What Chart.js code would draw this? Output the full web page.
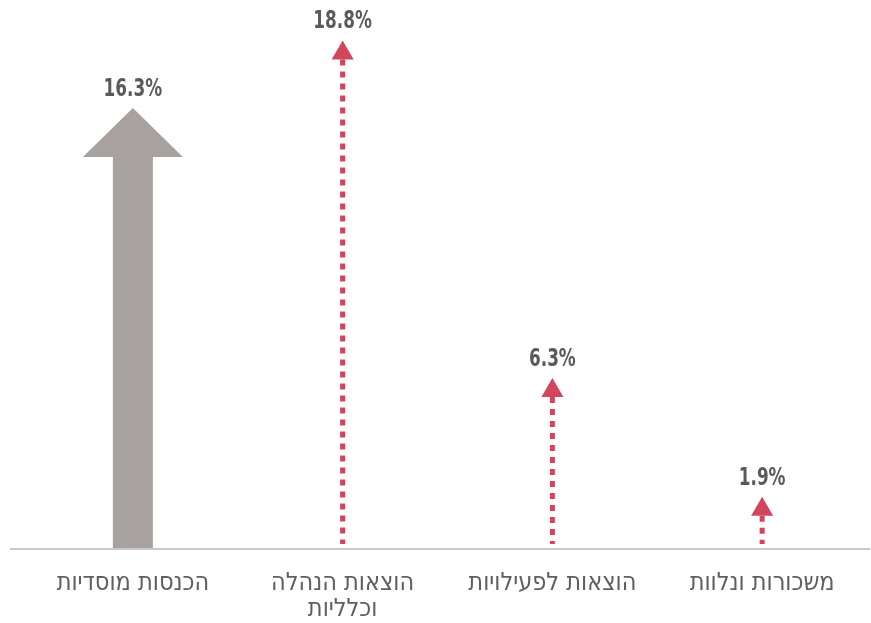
<!DOCTYPE html>
<html>
<head>
<meta charset="utf-8">
<script src="https://cdn.jsdelivr.net/npm/chart.js@4.4.0/dist/chart.umd.min.js"></script>
<style>
  html, body { margin: 0; padding: 0; background: #fff; }
  #wrap { width: 871px; height: 623px; }
</style>
</head>
<body>
<div id="wrap"><canvas id="myChart" width="871" height="623"></canvas></div>
<script>
var categories = [
  'הכנסות מוסדיות',
  ['הוצאות הנהלה', 'וכלליות'],
  'הוצאות לפעילויות',
  'משכורות ונלוות'
];
var changeValues = [16.3, 18.8, 6.3, 1.9];
var valueLabels = ['16.3%', '18.8%', '6.3%', '1.9%'];
var arrowKinds = ['solid', 'dotted', 'dotted', 'dotted'];

var GRAY = '#a7a2a0';
var RED = '#d1465c';

// draws the arrows on top of the (invisible) bars
var arrowPlugin = {
  id: 'arrows',
  afterDatasetsDraw: function(chart){
    var ctx = chart.ctx;
    var meta = chart.getDatasetMeta(0);
    var base = chart.scales.y.getPixelForValue(0);

    // baseline
    ctx.save();
    ctx.strokeStyle = '#c9c9c9';
    ctx.lineWidth = 2;
    ctx.beginPath();
    ctx.moveTo(10, base + 1);
    ctx.lineTo(870, base + 1);
    ctx.stroke();
    ctx.restore();

    meta.data.forEach(function(bar, i){
      var x = bar.x, tip = bar.y;
      ctx.save();
      if (arrowKinds[i] === 'solid') {
        var headH = 49, headW = 50, shaft = 20;
        ctx.fillStyle = GRAY;
        ctx.beginPath();
        ctx.moveTo(x, tip);
        ctx.lineTo(x + headW, tip + headH);
        ctx.lineTo(x + shaft, tip + headH);
        ctx.lineTo(x + shaft, base);
        ctx.lineTo(x - shaft, base);
        ctx.lineTo(x - shaft, tip + headH);
        ctx.lineTo(x - headW, tip + headH);
        ctx.closePath();
        ctx.fill();
      } else {
        var hH = 19, hW = 11;
        ctx.fillStyle = RED;
        ctx.beginPath();
        ctx.moveTo(x, tip);
        ctx.lineTo(x + hW, tip + hH);
        ctx.lineTo(x - hW, tip + hH);
        ctx.closePath();
        ctx.fill();
        ctx.strokeStyle = RED;
        ctx.lineWidth = 5;
        ctx.setLineDash([6, 6]);
        ctx.beginPath();
        ctx.moveTo(x, tip + hH);
        ctx.lineTo(x, base - 4);
        ctx.stroke();
      }
      ctx.restore();

      // value label, squeezed to match the condensed look
      ctx.save();
      ctx.fillStyle = '#5a5a5a';
      ctx.font = 'bold 25px "DejaVu Sans Condensed", sans-serif';
      ctx.textAlign = 'center';
      ctx.textBaseline = 'alphabetic';
      ctx.translate(x, tip - 12);
      ctx.scale(0.75, 1);
      ctx.fillText(valueLabels[i], 0, 0);
      ctx.restore();
    });
  }
};

var ctx = document.getElementById('myChart');
var chart = new Chart(ctx, {
  type: 'bar',
  data: {
    labels: categories,
    datasets: [{
      data: changeValues,
      backgroundColor: 'rgba(0,0,0,0)',
      borderWidth: 0
    }]
  },
  options: {
    responsive: false,
    animation: false,
    devicePixelRatio: 1,
    layout: { padding: { left: 28, right: 4, top: 8, bottom: 0 } },
    plugins: {
      legend: { display: false },
      tooltip: { enabled: false }
    },
    scales: {
      x: {
        grid: { display: false, drawTicks: false },
        border: { display: false },
        afterFit: function(scale){ scale.height = 75; },
        ticks: {
          padding: 22,
          color: '#5f5f5f',
          maxRotation: 0,
          autoSkip: false,
          font: { family: '"DejaVu Sans Condensed", sans-serif', size: 25, lineHeight: 1.05 }
        }
      },
      y: {
        display: false,
        min: 0,
        max: 20
      }
    }
  },
  plugins: [arrowPlugin]
});
</script>
</body>
</html>
